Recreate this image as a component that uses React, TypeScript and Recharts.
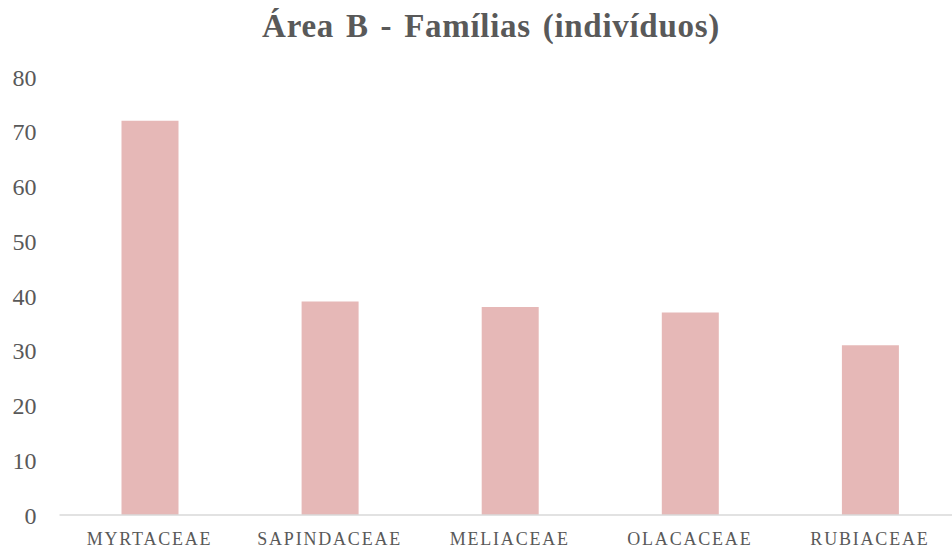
import React from "react";
import { BarChart, Bar, XAxis, YAxis } from "recharts";

const families = ["MYRTACEAE", "SAPINDACEAE", "MELIACEAE", "OLACACEAE", "RUBIACEAE"];
const individuals = [72, 39, 38, 37, 31];
const yTicks = [0, 10, 20, 30, 40, 50, 60, 70, 80];

const data = families.map((name, i) => ({ name, value: individuals[i] }));

const serif = '"Liberation Serif", "Times New Roman", serif';

export default function App() {
  return (
    <div
      style={{
        position: "absolute",
        left: 0,
        top: 0,
        width: 952,
        height: 551,
        overflow: "hidden",
        background: "#fff",
        fontFamily: serif,
      }}
    >
      <div
        style={{
          position: "absolute",
          top: 8,
          left: 0,
          width: 982,
          textAlign: "center",
          fontSize: 33,
          fontWeight: "bold",
          color: "#595959",
          letterSpacing: 0.7,
          wordSpacing: 3,
        }}
      >
        Área B - Famílias (indivíduos)
      </div>
      <BarChart
        width={960}
        height={551}
        data={data}
        margin={{ top: 77, right: 0, bottom: 0, left: 9.5 }}
      >
        <XAxis
          dataKey="name"
          height={36}
          tickLine={false}
          axisLine={{ stroke: "#d9d9d9", strokeWidth: 1.5 }}
          tickMargin={11}
          interval={0}
          tick={{ fill: "#595959", fontSize: 18, fontFamily: serif, letterSpacing: 1.8 }}
        />
        <YAxis
          width={50}
          domain={[0, 80]}
          ticks={yTicks}
          interval={0}
          axisLine={false}
          tickLine={false}
          tickMargin={17}
          tick={{ fill: "#595959", fontSize: 24, fontFamily: serif }}
        />
        <Bar dataKey="value" fill="#E6B8B7" barSize={57} isAnimationActive={false} />
      </BarChart>
    </div>
  );
}
